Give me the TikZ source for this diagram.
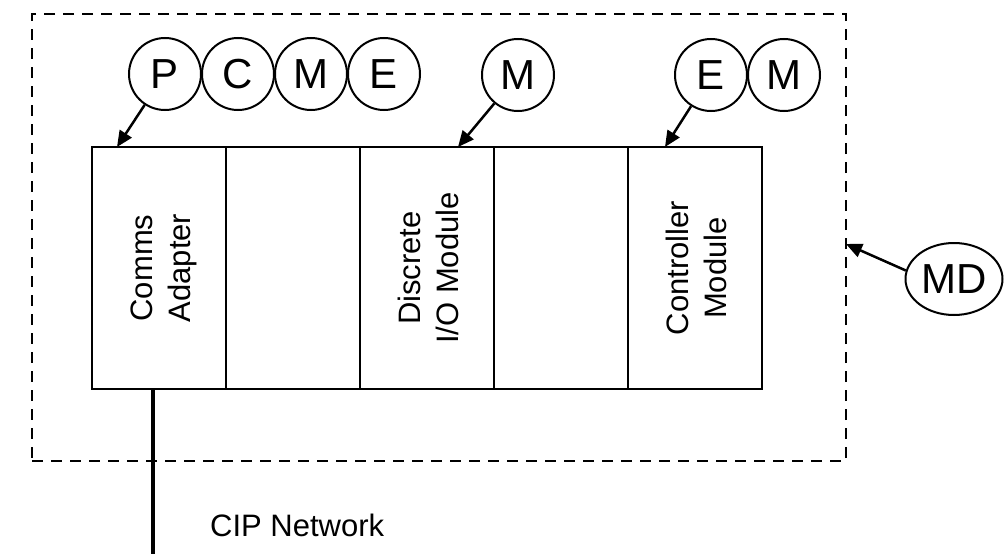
\documentclass[tikz,border=0pt]{standalone}
\usepackage{fontspec}
\setmainfont{Liberation Sans}
\usepackage{tikz}
\usetikzlibrary{shapes,arrows.meta}
\tikzstyle{tag} = [circle, draw, line width=2pt, minimum size=72pt, inner sep=0pt, font=\fontsize{42}{48}\selectfont]
\tikzstyle{oval} = [ellipse, draw, line width=2pt, minimum width=97pt, minimum height=72pt, inner sep=0pt, font=\fontsize{42}{48}\selectfont]
\tikzstyle{module} = [rectangle, draw, line width=2pt, outer sep=0pt, minimum width=134pt, minimum height=242pt, inner sep=0pt, font=\fontsize{31}{38}\selectfont]
\tikzstyle{frame} = [rectangle, draw, dash pattern=on 11pt off 8pt, line width=2.6pt, outer sep=0pt, minimum width=814pt, minimum height=447pt]
\tikzstyle{line} = [draw, line width=2.5pt, -{Triangle[length=16pt,width=14pt]}]
\tikzstyle{wire} = [draw, line width=3.5pt]
\newcommand{\vlabel}[1]{\rotatebox{90}{\raisebox{-5pt}[\height][\depth]{\begin{tabular}{@{}c@{}}#1\end{tabular}}}}

\begin{document}
\begin{tikzpicture}[x=1pt, y=-1pt, node distance=73pt]
    \useasboundingbox (0,0) rectangle (1005,554);
    \node [frame] (mdbox) at (439,237.5) {};

    \node [module] (comms) at (159,268) {\vlabel{Comms\\Adapter}};
    \node [module, right of=comms, node distance=134pt] (slot2) {};
    \node [module, right of=slot2, node distance=134pt] (dio) {\vlabel{Discrete\\I/O Module}};
    \node [module, right of=dio, node distance=134pt] (slot4) {};
    \node [module, right of=slot4, node distance=134pt] (ctrl) {\vlabel{Controller\\Module}};

    \node [tag] (p) at (165,74) {P};
    \node [tag, right of=p] (c) {C};
    \node [tag, right of=c] (m1) {M};
    \node [tag, right of=m1] (e1) {E};
    \node [tag] (m2) at (518,75) {M};
    \node [tag] (e2) at (711,75) {E};
    \node [tag, right of=e2] (m3) {M};
    \node [oval] (md) at (954,279) {MD};

    \coordinate (pin1) at ([xshift=25pt]comms.north west);
    \coordinate (pin2) at ([xshift=98pt]dio.north west);
    \coordinate (pin3) at ([xshift=37pt]ctrl.north west);
    \coordinate (pin4) at ([yshift=-6.5pt]mdbox.east);
    \coordinate (cipend) at (153,554);

    \path [line] (p) -- (pin1);
    \path [line] (m2) -- (pin2);
    \path [line] (e2) -- (pin3);
    \path [line] (md.170) -- (pin4);

    \path [wire] ([xshift=61pt]comms.south west) -- (cipend);
    \node [anchor=base west, inner sep=0pt, font=\fontsize{31}{37}\selectfont] (cip) at (210,536) {CIP Network};
\end{tikzpicture}
\end{document}
